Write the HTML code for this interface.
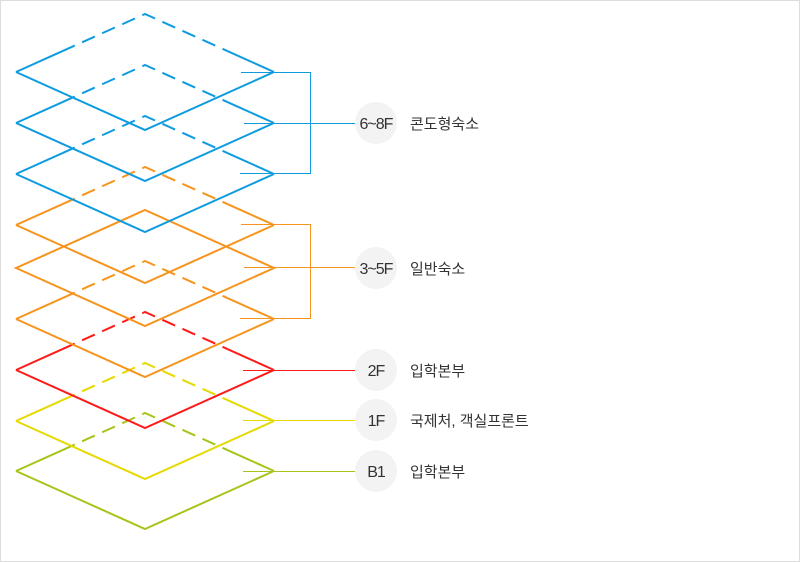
<!DOCTYPE html>
<html><head><meta charset="utf-8"><style>
html,body{margin:0;padding:0;background:#fff}
svg{display:block}
.t{font-family:"Liberation Sans","Noto Sans CJK KR",sans-serif}
</style></head><body>
<svg width="800" height="562" viewBox="0 0 800 562" xmlns="http://www.w3.org/2000/svg" fill="none" stroke-width="2">
<rect x="0.5" y="0.5" width="799" height="561" stroke="#ddd" stroke-width="1" fill="#fff"/>
<g stroke="#a5c51a">
<path d="M16 471 L145 529 L274 471 M16 471 L62 450.3 M228 450.3 L274 471"/>
<path d="M62 450.3 L145 413 L228 450.3" stroke-dasharray="14 8"/>
</g>
<g stroke="#e5d900">
<path d="M16 421 L145 479 L274 421 M16 421 L62 400.3 M228 400.3 L274 421"/>
<path d="M62 400.3 L145 363 L228 400.3" stroke-dasharray="14 8"/>
</g>
<g stroke="#ff1a1a">
<path d="M16 370 L145 428 L274 370 M16 370 L62 349.3 M228 349.3 L274 370"/>
<path d="M62 349.3 L145 312 L228 349.3" stroke-dasharray="14 8"/>
</g>
<g stroke="#f7941d">
<path d="M16 319 L145 377 L274 319 M16 319 L62 298.3 M228 298.3 L274 319"/>
<path d="M62 298.3 L145 261 L228 298.3" stroke-dasharray="14 8"/>
<path d="M16 268 L145 326 L274 268 L145 210 Z"/>
<path d="M16 225 L145 283 L274 225 M16 225 L62 204.3 M228 204.3 L274 225"/>
<path d="M62 204.3 L145 167 L228 204.3" stroke-dasharray="14 8"/>
</g>
<g stroke="#0e9be0">
<path d="M16 174 L145 232 L274 174 M16 174 L62 153.3 M228 153.3 L274 174"/>
<path d="M62 153.3 L145 116 L228 153.3" stroke-dasharray="14 8"/>
<path d="M16 123 L145 181 L274 123 M16 123 L62 102.3 M228 102.3 L274 123"/>
<path d="M62 102.3 L145 65 L228 102.3" stroke-dasharray="14 8"/>
<path d="M16 72 L145 130 L274 72 M16 72 L62 51.3 M228 51.3 L274 72"/>
<path d="M62 51.3 L145 14 L228 51.3" stroke-dasharray="14 8"/>
</g>
<g stroke-width="1">
<path stroke="#0e9be0" d="M241 72.5 H310.5 V173.5 H240 M244 123.5 H355"/>
<path stroke="#f7941d" d="M241 224.5 H310.5 V318.5 H240 M244 267.5 H355"/>
<path stroke="#ff1a1a" d="M243 370.5 H355"/>
<path stroke="#e5d900" d="M243 420.5 H355"/>
<path stroke="#a5c51a" d="M243 471.5 H355"/>
</g>
<g fill="#f3f3f3" stroke="none">
<circle cx="376" cy="123" r="21"/>
<circle cx="376" cy="268" r="21"/>
<circle cx="376" cy="370" r="21"/>
<circle cx="376" cy="420" r="21"/>
<circle cx="376" cy="471" r="21"/>
</g>
<g class="t" fill="#333" stroke="none" font-size="16" text-anchor="middle" letter-spacing="-1">
<text x="376" y="129">6~8F</text>
<text x="376" y="274">3~5F</text>
<text x="376" y="376">2F</text>
<text x="376" y="426">1F</text>
<text x="376" y="477">B1</text>
</g>
<g class="t" fill="#333" stroke="none" font-size="15">
<text x="410" y="129">콘도형숙소</text>
<text x="410" y="274">일반숙소</text>
<text x="410" y="376">입학본부</text>
<text x="410" y="426">국제처, 객실프론트</text>
<text x="410" y="477">입학본부</text>
</g>
</svg>
</body></html>
